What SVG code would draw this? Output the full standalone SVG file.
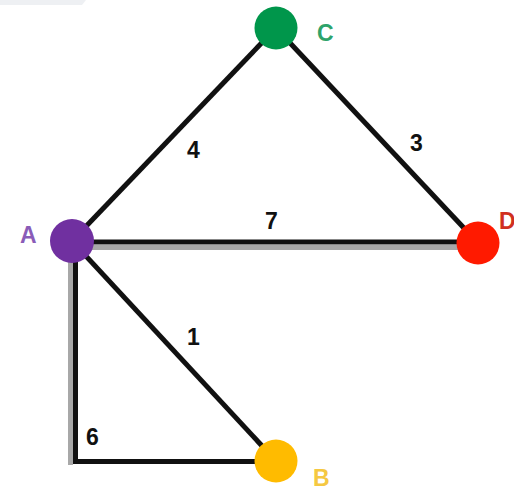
<svg xmlns="http://www.w3.org/2000/svg" width="514" height="490" viewBox="0 0 514 490">
<style>
.e{stroke:#111;stroke-width:5;fill:none;stroke-linecap:butt}
.sh{stroke:#a8a8a8;stroke-width:5;fill:none}
.w{font-family:"Liberation Sans",Arial,sans-serif;font-weight:bold;font-size:23px;fill:#111}
.n{font-family:"Liberation Sans",Arial,sans-serif;font-weight:bold;font-size:23px}
</style>
<rect x="0" y="0" width="514" height="490" fill="#fff"/>
<path d="M0 0H86L82 5H0Z" fill="#eef0f3"/>
<g id="connectors">
<line class="e" x1="72" y1="241" x2="276" y2="28"/>
<line class="e" x1="276" y1="28" x2="478" y2="243"/>
<line class="sh" x1="72" y1="247.5" x2="478" y2="247.5"/>
<line class="e" x1="72" y1="242" x2="478" y2="242" stroke="#444"/>
<line class="e" x1="72" y1="241" x2="276" y2="461"/>
<line class="sh" x1="70.5" y1="241" x2="70.5" y2="465"/>
<line class="e" x1="75.5" y1="241" x2="75.5" y2="461.5"/>
<line class="e" x1="73" y1="461.5" x2="276" y2="461.5"/>
<text class="w" x="187" y="158">4</text>
<text class="w" x="410" y="151">3</text>
<text class="w" x="265" y="229">7</text>
<text class="w" x="187" y="345">1</text>
<text class="w" x="86" y="445">6</text>
</g>
<g id="node-C">
<circle cx="276" cy="28" r="21.5" fill="#00964b"/>
<text class="n" x="317" y="41" fill="#2ea36a">C</text>
</g>
<g id="node-A">
<circle cx="72" cy="241" r="22" fill="#7030a0"/>
<text class="n" x="20" y="243" fill="#8a5cb8">A</text>
</g>
<g id="node-D">
<circle cx="478" cy="243" r="21.5" fill="#ff1a00"/>
<text class="n" x="499" y="229" fill="#d03020">D</text>
</g>
<g id="node-B">
<circle cx="276" cy="461" r="21.5" fill="#ffbb00"/>
<text class="n" x="313" y="486" fill="#f5c842">B</text>
</g>
</svg>
